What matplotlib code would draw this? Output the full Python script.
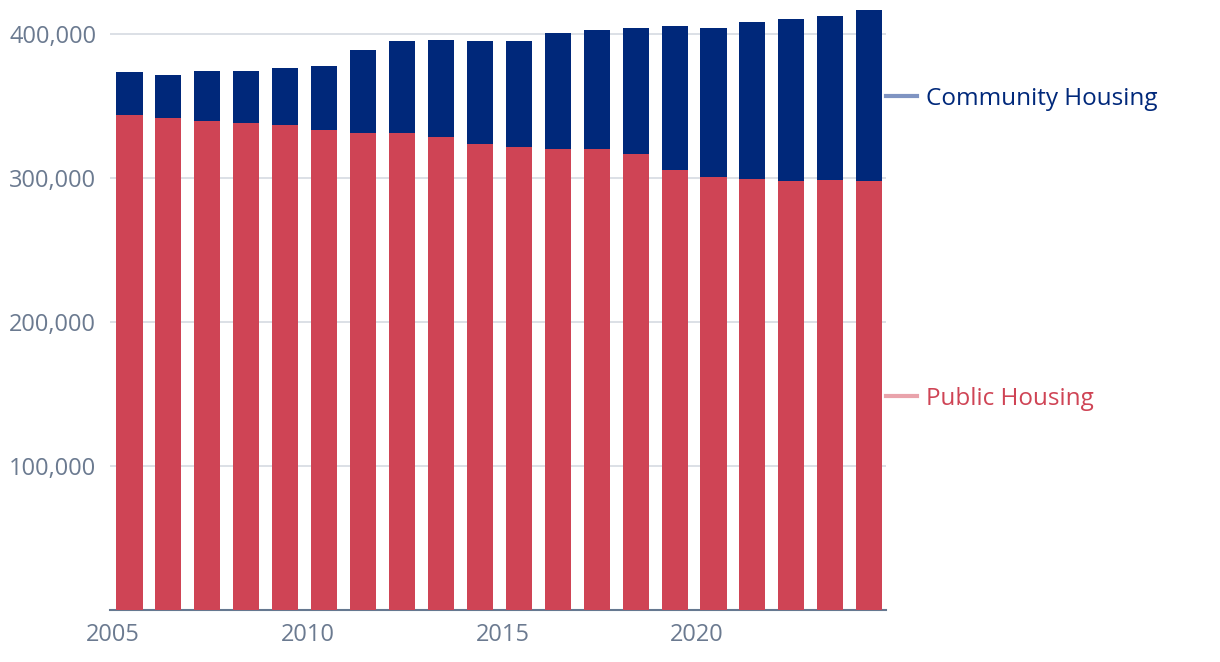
import matplotlib.pyplot as plt
import numpy as np

plt.rcParams['font.family'] = ['Open Sans', 'DejaVu Sans']

years = np.arange(2005, 2025)
# dwellings
public = [343.8, 341.7, 339.6, 338.2, 336.8, 333.3, 331.3, 331.3, 328.5, 323.6,
          321.5, 320.1, 320.1, 316.7, 305.6, 300.7, 299.3, 297.9, 298.6, 297.9]
total = [373.6, 371.5, 374.3, 374.3, 376.4, 377.8, 388.9, 395.1, 395.8, 395.1,
         395.1, 400.7, 402.8, 404.2, 405.6, 404.2, 408.3, 410.4, 412.5, 416.7]
public = np.array(public) * 1000
community = np.array(total) * 1000 - public

series_names = ['Public Housing', 'Community Housing']
bar_colors = ['#CF4455', '#00287A']
line_colors = ['#E9A3AB', '#7F94C2']
grey = '#6B7A90'

fig = plt.figure(figsize=(12.2, 6.62), dpi=100)
ax = fig.add_axes([0.0902, 0.0785, 0.636, 0.9136])

x = years + 0.42
ax.bar(x, public, width=0.67, color=bar_colors[0], zorder=3)
ax.bar(x, community, width=0.67, bottom=public, color=bar_colors[1], zorder=3)

ax.set_xlim(2004.92, 2024.85)
ax.set_ylim(0, 420000)
ax.set_yticks([100000, 200000, 300000, 400000])
ax.set_yticklabels([f'{v:,}' for v in [100000, 200000, 300000, 400000]])
ax.set_xticks([2005, 2010, 2015, 2020])
ax.tick_params(axis='both', length=0, labelsize=17, colors=grey)
ax.tick_params(axis='x', pad=9)
ax.tick_params(axis='y', pad=10)
ax.grid(axis='y', color='#D5DAE2', lw=1.2, zorder=0)
for s in ['top', 'right', 'left']:
    ax.spines[s].set_visible(False)
ax.spines['bottom'].set_color('#667890')
ax.spines['bottom'].set_linewidth(1.5)

# end labels at middle of last bar segments
mids = [public[-1] / 2, public[-1] + community[-1] / 2]
for name, ym, lc, tc in zip(series_names, mids, line_colors, bar_colors):
    ax.plot([1.0, 1.04], [ym, ym], transform=ax.get_yaxis_transform(),
            color=lc, lw=3, clip_on=False)
    ax.text(1.052, ym, name, transform=ax.get_yaxis_transform(),
            color=tc, fontsize=17.5, va='center_baseline', ha='left')

fig.savefig('out.png', dpi=100)
